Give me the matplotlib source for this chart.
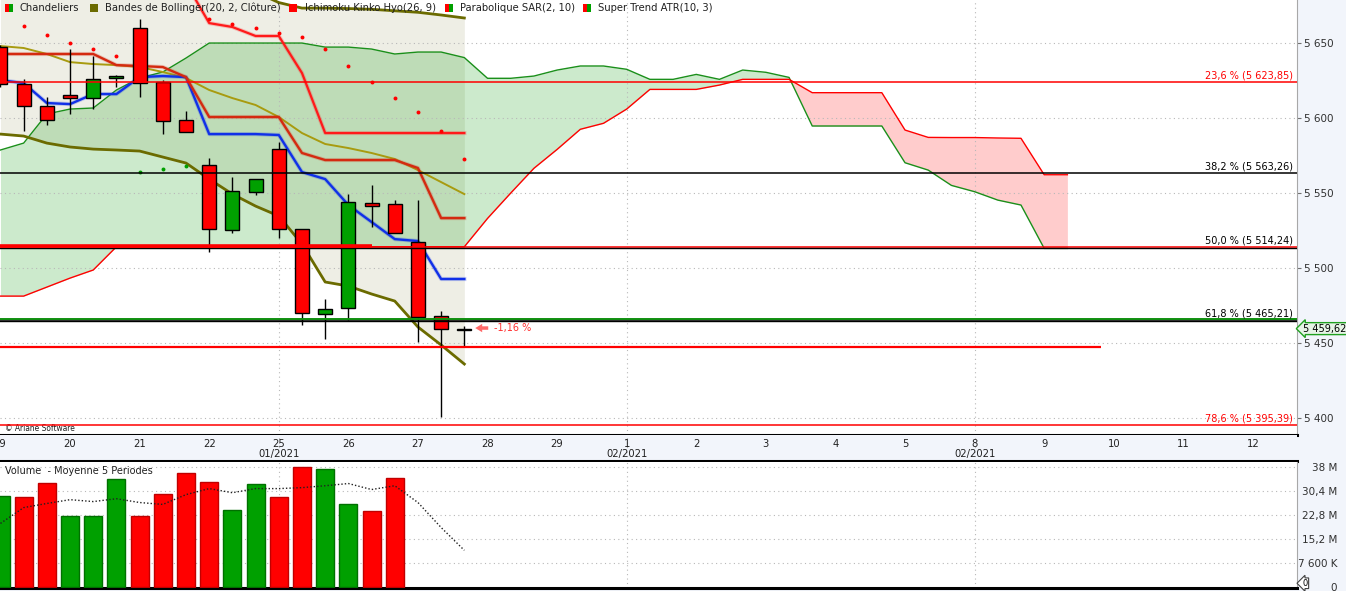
import matplotlib
matplotlib.use('Agg')
import matplotlib.pyplot as plt
import matplotlib.patheffects as pe
import matplotlib.transforms as mtrans
from matplotlib.patches import Rectangle
import numpy as np

W, H = 1346, 591

# ---- data ----
days = ['19', '20', '21', '22', '25', '26', '27', '28', '29', '1', '2', '3',
        '4', '5', '8', '9', '10', '11', '12']
month_marks = {'25': '01/2021', '1': '02/2021', '8': '02/2021'}
bars_per_day = 3

opens = [5647.1, 5622.5, 5608.0, 5615.1, 5613.1, 5626.5, 5659.8, 5623.8, 5598.5, 5568.5,
         5525.1, 5550.5, 5579.3, 5525.8, 5469.1, 5473.1, 5543.1, 5542.5, 5517.1, 5467.8, 5458.7]
highs = [5648.5, 5626.0, 5614.0, 5646.0, 5641.3, 5628.7, 5666.0, 5625.1, 5604.7, 5573.3,
         5560.7, 5559.1, 5584.2, 5525.8, 5479.3, 5549.3, 5555.3, 5545.3, 5545.3, 5471.3, 5461.3]
lows = [5621.0, 5591.5, 5595.5, 5602.5, 5605.8, 5620.9, 5614.2, 5589.5, 5590.5, 5511.0,
        5523.5, 5548.9, 5519.8, 5462.2, 5452.9, 5465.3, 5527.5, 5523.1, 5450.9, 5400.9, 5447.5]
closes = [5622.7, 5608.0, 5598.5, 5613.1, 5625.8, 5627.8, 5623.1, 5597.8, 5590.5, 5525.8,
          5551.1, 5559.1, 5525.8, 5469.8, 5472.5, 5543.8, 5541.5, 5523.1, 5467.5, 5459.1, 5459.62]

# volume in millions (no volume for the last three bars)
volume = [28.9, 28.3, 33.0, 22.6, 22.3, 34.2, 22.6, 29.5, 36.1, 33.3,
          24.2, 32.7, 28.3, 38.0, 37.4, 26.1, 23.9, 34.5]
vol_ma = [20.1, 25.1, 26.4, 27.6, 27.0, 27.9, 26.7, 26.1, 29.2, 31.1, 29.8,
          31.1, 31.1, 31.4, 32.0, 32.7, 30.8, 32.0, 26.7, 18.8, 11.6]

bb_upper = [5706, 5704, 5701, 5698, 5695, 5693, 5691, 5689, 5687, 5690, 5687,
            5684, 5677, 5673.3, 5673.3, 5673, 5672.5, 5671.5, 5670.5, 5668.7, 5666.7]
bb_mid = [5648.0, 5646.7, 5642.7, 5637.3, 5636.0, 5635.3, 5634.0, 5630.7, 5626.7, 5618.7,
          5613.3, 5608.7, 5600.7, 5590.0, 5582.7, 5580.0, 5576.7, 5572.7, 5565.3, 5557.3, 5549.3]
bb_lower = [5589.3, 5588.0, 5583.3, 5580.7, 5579.3, 5578.7, 5578.0, 5574.0, 5570.0, 5559.3,
            5549.3, 5541.3, 5534.7, 5516.0, 5490.7, 5488.0, 5482.7, 5478.0, 5460.7, 5448.7, 5436.0]

tenkan = [5625.3, 5623.3, 5610.0, 5609.3, 5616.0, 5616.0, 5627.3, 5628.0, 5627.3, 5589.3,
          5589.3, 5589.3, 5588.7, 5564.0, 5559.3, 5542.0, 5530.7, 5519.3, 5518.0, 5492.7, 5492.7]
kijun = [5642.7, 5642.7, 5642.7, 5642.7, 5642.7, 5635.3, 5634.7, 5634.0, 5627.3, 5600.7,
         5600.7, 5600.7, 5600.7, 5576.7, 5572.0, 5572.0, 5572.0, 5572.0, 5566.7, 5533.3, 5533.3]
span_a = [5578.7, 5583.3, 5602.7, 5606.0, 5606.7, 5618.7, 5626.7, 5630.7, 5640.0, 5650.0,
          5650.0, 5650.0, 5650.0, 5650.0, 5647.3, 5647.3, 5646.0, 5642.7, 5644.0, 5644.0,
          5640.3, 5626.5, 5626.5, 5628.0, 5632.0, 5634.7, 5634.7, 5632.5, 5625.8, 5625.8,
          5629.1, 5625.8, 5632.0, 5630.5, 5627.1, 5594.7, 5594.7, 5594.7, 5594.7, 5570.2,
          5565.3, 5555.1, 5550.9, 5545.3, 5542.0, 5513.1, 5513.1]
span_b = [5481.3, 5481.3, 5487.3, 5493.3, 5498.7] + [5514.2] * 16 + \
         [5533.1, 5550.0, 5566.5, 5579.1, 5592.5, 5596.5, 5606.0, 5619.1, 5619.1, 5619.1,
          5622.0, 5625.8, 5625.8, 5625.8, 5616.9, 5616.9, 5616.9, 5616.9, 5592.0, 5587.1,
          5587.0, 5587.0, 5586.7, 5586.5, 5562.2, 5562.2]

sar = [np.nan, 5661.5, 5655.3, 5650.2, 5646.2, 5641.5, 5564.0, 5566.0, 5568.0, 5666.0,
       5662.7, 5660.2, 5656.9, 5654.2, 5646.0, 5634.9, 5624.2, 5613.5, 5604.2, 5591.3, 5572.7]
supertrend = [5690.0, 5663.3, 5660.7, 5654.7, 5654.7, 5630.0, 5590.0, 5590.0, 5590.0,
              5590.0, 5590.0, 5590.0, 5590.0]
supertrend_start = 8

fib_levels = [5623.85, 5563.26, 5514.24, 5465.21, 5395.39]
fib_labels = ['23,6 % (5 623,85)', '38,2 % (5 563,26)', '50,0 % (5 514,24)',
              '61,8 % (5 465,21)', '78,6 % (5 395,39)']
fib_colors = ['#ff0000', '#000000', '#ff0000', '#000000', '#ff0000']
fib_text_colors = ['#ff0000', '#000000', '#000000', '#000000', '#ff0000']
support_level = 5447.5
last_price = 5459.62

# ---- figure ----
fig = plt.figure(figsize=(W / 100, H / 100), dpi=100)
fig.patch.set_facecolor('#f2f5fb')

def fx(px):
    return px / W

def fy(py):
    return 1 - py / H

XMIN, XMAX = -0.02, 55.9
ax = fig.add_axes([0, fy(435), fx(1297), 435 / H])
axd = fig.add_axes([0, fy(461), fx(1297), 26 / H])
axv = fig.add_axes([0, fy(588), fx(1297), 126 / H])
for a in (ax, axd, axv):
    a.set_xlim(XMIN, XMAX)
    a.set_xticks([])
    for s in ('left', 'top'):
        a.spines[s].set_visible(False)
    a.spines['right'].set_color('#a8a8a8')
    a.spines['bottom'].set_color('black')
    a.spines['bottom'].set_linewidth(2.2)

week_starts = [3 * days.index(d) for d in month_marks]
grid_kw = dict(color='#b8b8b8', ls=(0, (1, 3)), lw=0.8, zorder=1)

# ---- main price panel ----
ax.set_facecolor('white')
ax.set_ylim(5388.7, 5678.7)
yt = list(range(5400, 5651, 50))
ax.yaxis.tick_right()
ax.set_yticks(yt)
ax.set_yticklabels([f'{v:,}'.replace(',', ' ') for v in yt])
ax.tick_params(axis='y', direction='out', length=3, width=0.8, color='#707070',
               pad=2, labelsize=7.5, labelcolor='#303030')
for v in yt:
    ax.axhline(v, **grid_kw)
for xw in week_starts:
    ax.axvline(xw, **grid_kw)

n = len(closes)
idx = np.arange(n)
ax.fill_between(idx, bb_upper, bb_lower, color='#eeeee5', lw=0, zorder=0.5)

ci = np.arange(len(span_a))
sa, sb = np.array(span_a), np.array(span_b)
ax.fill_between(ci, sa, sb, where=sa >= sb, interpolate=True, color='#009600',
                alpha=0.2, lw=0, zorder=0.6)
ax.fill_between(ci, sa, sb, where=sa < sb, interpolate=True, color='#ff0000',
                alpha=0.2, lw=0, zorder=0.6)
ax.plot(ci, sa, color='#1a8f1a', lw=1, zorder=2)
ax.plot(ci, sb, color='#ff0000', lw=1, zorder=2)

glow = lambda c: [pe.Stroke(linewidth=3.0, foreground=c, alpha=0.22), pe.Normal()]
ax.plot(idx, bb_upper, color='#6b6b00', lw=2, zorder=3)
ax.plot(idx, bb_lower, color='#6b6b00', lw=2, zorder=3)
ax.plot(idx, bb_mid, color='#a89b10', lw=1.4, zorder=3)
ax.plot(idx, tenkan, color='#1030e8', lw=1.7, zorder=3, path_effects=glow('#1030e8'))
ax.plot(idx, kijun, color='#d42a10', lw=1.7, zorder=3, path_effects=glow('#d42a10'))
st_x = np.arange(supertrend_start, supertrend_start + len(supertrend))
ax.plot(st_x, supertrend, color='#ff1a1a', lw=1.6, zorder=3, path_effects=glow('#ff1a1a'))

sar_arr = np.array(sar)
below = sar_arr < np.array(closes)
above = ~below & ~np.isnan(sar_arr)
ax.scatter(idx[below], sar_arr[below], s=8, color='#00a000', zorder=4, lw=0)
ax.scatter(idx[above], sar_arr[above], s=8, color='#ff0000', zorder=4, lw=0)

# candles
o, h, l, c = map(np.array, (opens, highs, lows, closes))
up = c >= o
ax.vlines(idx, l, h, color='black', lw=1, zorder=5)
ax.bar(idx, np.maximum(np.abs(c - o), 0.6), bottom=np.minimum(o, c), width=0.6,
       color=np.where(up, '#00a000', '#ff0000'), edgecolor='black', lw=1, zorder=6)

# horizontal levels
for lev, col in zip(fib_levels, fib_colors):
    ax.axhline(lev, color=col, lw=1.1, zorder=7)
ax.axhline(fib_levels[2] - 0.6, color='black', lw=1, zorder=7)
ax.hlines(fib_levels[2] + 0.6, XMIN, 16, color='#ff0000', lw=2.6, zorder=7)
ax.axhline(fib_levels[3] + 0.7, color='#109010', lw=1.4, zorder=7)
ax.axhline(fib_levels[3] - 0.2, color='black', lw=1, zorder=7)
ax.hlines(support_level, XMIN, 47.45, color='#ff0000', lw=1.6, zorder=7)

for lev, lab, col in zip(fib_levels, fib_labels, fib_text_colors):
    ax.annotate(lab, xy=(1.0, lev), xycoords=('axes fraction', 'data'),
                xytext=(-3, 1), textcoords='offset points', ha='right', va='bottom',
                fontsize=7, color=col, zorder=8)

ax.annotate('', xy=(20.35, 5460), xytext=(21.15, 5460),
            arrowprops=dict(arrowstyle='simple,head_length=0.5,head_width=0.6,tail_width=0.25',
                            color='#ff6a6a', lw=0), zorder=8)
ax.text(21.3, 5460, '-1,16 %', color='#ff3030', fontsize=7, va='center', zorder=8)

ax.annotate(f'{last_price:,.2f}'.replace(',', ' ').replace('.', ','),
            xy=(1.0, last_price), xycoords=('axes fraction', 'data'),
            xytext=(4, 0), textcoords='offset points', ha='left', va='center',
            fontsize=7, color='black', annotation_clip=False,
            bbox=dict(boxstyle='larrow,pad=0.1', fc='#e6f4e6', ec='#20a020', lw=1))

ax.text(0.004, 0.005, '© Ariane Software', transform=ax.transAxes, fontsize=6,
        color='#202020', va='bottom', ha='left', fontstretch='condensed')

# ---- date band ----
axd.set_facecolor('#f2f5fb')
axd.set_ylim(0, 1)
axd.set_yticks([])
axd.spines['right'].set_visible(False)
tr = mtrans.blended_transform_factory(axd.transData, axd.transAxes)
for k, d in enumerate(days):
    axd.text(bars_per_day * k, 0.66, d, transform=tr, ha='center', va='center',
             fontsize=8, color='#202020', fontstretch='condensed')
    if d in month_marks:
        axd.text(bars_per_day * k, 0.26, month_marks[d], transform=tr, ha='center',
                 va='center', fontsize=8, color='#202020', fontstretch='condensed')
for xw in week_starts:
    axd.axvline(xw, **grid_kw)

# ---- volume panel ----
axv.set_facecolor('white')
axv.set_ylim(-0.3, 39.5)
vi = np.arange(len(volume))
prev = np.concatenate([[-np.inf], c[:len(volume) - 1]])
vup = c[:len(volume)] >= prev
axv.bar(vi, volume, width=0.78, color=np.where(vup, '#00a000', '#ff0000'),
        edgecolor=np.where(vup, '#007000', '#c00000'), lw=1, zorder=3)
axv.plot(idx, vol_ma, color='#202020', ls=(0, (1, 1.5)), lw=1, zorder=4)
vt = [0, 7.6, 15.2, 22.8, 30.4, 38]
axv.yaxis.tick_right()
axv.set_yticks(vt)
axv.set_yticklabels(['0', '7 600 K', '15,2 M', '22,8 M', '30,4 M', '38 M'])
axv.tick_params(axis='y', length=0, pad=29, labelsize=7.5, labelcolor='#303030')
for lab in axv.get_yticklabels():
    lab.set_ha('right')
for v in vt[1:]:
    axv.axhline(v, **grid_kw)
for xw in week_starts:
    axv.axvline(xw, **grid_kw)
axv.text(0.004, 0.93, 'Volume  - Moyenne 5 Periodes', transform=axv.transAxes,
         fontsize=7, color='#202020', va='center')
axv.annotate('0', xy=(1.0, 1.2), xycoords=('axes fraction', 'data'), xytext=(4, 0),
             textcoords='offset points', ha='left', va='center', fontsize=6,
             annotation_clip=False,
             bbox=dict(boxstyle='larrow,pad=0.1', fc='white', ec='#404040', lw=0.8))

# ---- legend strip ----
legend_items = [
    (5, ['#ff0000', '#00a000'], 20, 'Chandeliers'),
    (90, ['#6b6b00'], 105, 'Bandes de Bollinger(20, 2, Clôture)'),
    (289, ['#ff0000'], 305, 'Ichimoku Kinko Hyo(26, 9)'),
    (445, ['#ff0000', '#00a000'], 460, 'Parabolique SAR(2, 10)'),
    (583, ['#ff0000', '#00a000'], 598, 'Super Trend ATR(10, 3)'),
]
for sx, cols, tx, txt in legend_items:
    wsq = 8 / len(cols)
    for j, col in enumerate(cols):
        fig.add_artist(Rectangle((fx(sx + j * wsq), fy(12)), fx(wsq), 8 / H,
                                 transform=fig.transFigure, facecolor=col, edgecolor='none'))
    fig.text(fx(tx), fy(8), txt, fontsize=7.2, color='#202020', va='center', ha='left')

fig.savefig('out.png', dpi=100, facecolor=fig.get_facecolor())
